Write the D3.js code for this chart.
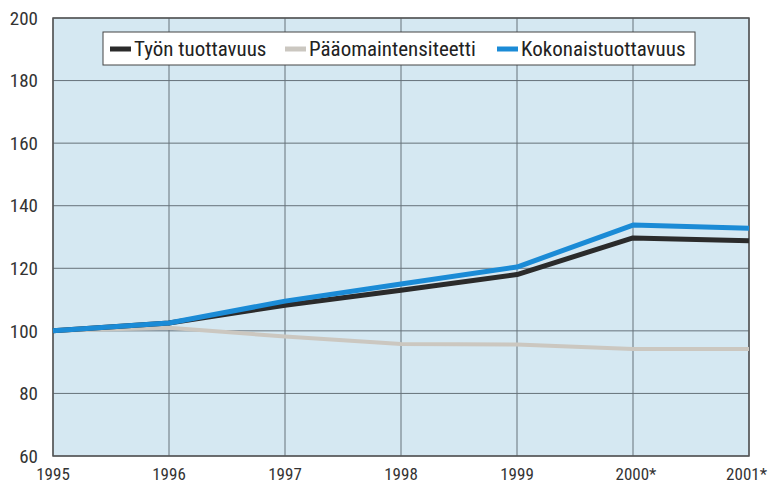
<!DOCTYPE html>
<html>
<head>
<meta charset="utf-8">
<script src="https://cdn.jsdelivr.net/npm/d3@7"></script>
<style>
body { margin: 0; background: #fff; }
text { font-family: "Liberation Sans Narrow", "Roboto Condensed", "Liberation Sans", sans-serif; }
</style>
</head>
<body>
<div id="chart"></div>
<script>
var width = 768;
var height = 483;
var margin = {top: 18, right: 19, bottom: 27, left: 53};

var years = ["1995", "1996", "1997", "1998", "1999", "2000*", "2001*"];
var tyon = [100, 102.5, 108.2, 113, 118, 129.7, 128.8];
var paaoma = [100, 101, 98.2, 95.8, 95.6, 94.2, 94.2];
var kokonais = [100, 102.5, 109.5, 115, 120.4, 133.8, 132.8];
var yTicks = [60, 80, 100, 120, 140, 160, 180, 200];

var seriesNames = ["Työn tuottavuus", "Pääomaintensiteetti", "Kokonaistuottavuus"];
var seriesColors = ["#2b2b2b", "#cbc7c0", "#1b8bd6"];
var seriesWidths = [5, 4, 5];
var series = [tyon, paaoma, kokonais];

var svg = d3.select("#chart")
            .append("svg")
            .attr("width", width)
            .attr("height", height);

var x = d3.scalePoint()
          .domain(years)
          .range([margin.left, width - margin.right]);

var y = d3.scaleLinear()
          .domain([60, 200])
          .range([height - margin.bottom, margin.top]);

// plot background
svg.append("rect")
   .attr("x", margin.left)
   .attr("y", margin.top)
   .attr("width", width - margin.left - margin.right)
   .attr("height", height - margin.top - margin.bottom)
   .style("fill", "#d5e8f2");

// grid
svg.selectAll(".hgrid")
   .data(yTicks)
   .enter()
   .append("line")
   .attr("x1", margin.left)
   .attr("x2", width - margin.right)
   .attr("y1", function(d){ return y(d); })
   .attr("y2", function(d){ return y(d); })
   .style("stroke", "#66727a")
   .style("stroke-width", 1);

svg.selectAll(".vgrid")
   .data(years)
   .enter()
   .append("line")
   .attr("x1", function(d){ return x(d); })
   .attr("x2", function(d){ return x(d); })
   .attr("y1", margin.top)
   .attr("y2", height - margin.bottom)
   .style("stroke", "#66727a")
   .style("stroke-width", 1);

// frame
svg.append("rect")
   .attr("x", margin.left)
   .attr("y", margin.top)
   .attr("width", width - margin.left - margin.right)
   .attr("height", height - margin.top - margin.bottom)
   .style("fill", "none")
   .style("stroke", "#555")
   .style("stroke-width", 1.5);

// y labels
svg.selectAll(".ylab")
   .data(yTicks)
   .enter()
   .append("text")
   .attr("x", margin.left - 15)
   .attr("y", function(d){ return y(d); })
   .attr("dy", "0.35em")
   .attr("text-anchor", "end")
   .style("font-size", "19px")
   .style("fill", "#333")
   .text(function(d){ return d; });

// x labels
svg.selectAll(".xlab")
   .data(years)
   .enter()
   .append("text")
   .attr("x", function(d, i){
       if (i == years.length - 1) return width - 1;
       return x(d) + (d.indexOf("*") > 0 ? 3 : 0);
   })
   .attr("y", height - 3)
   .attr("text-anchor", function(d, i){ return i == years.length - 1 ? "end" : "middle"; })
   .style("font-size", "17px")
   .style("fill", "#333")
   .text(function(d){ return d; });

// lines
var line = d3.line()
             .x(function(d, i){ return x(years[i]); })
             .y(function(d){ return y(d); });

[1, 0, 2].forEach(function(k){
    svg.append("path")
       .datum(series[k])
       .attr("d", line)
       .style("fill", "none")
       .style("stroke", seriesColors[k])
       .style("stroke-width", seriesWidths[k])
       .style("stroke-linejoin", "round");
});

// legend
svg.append("rect")
   .attr("x", 103).attr("y", 32)
   .attr("width", 592).attr("height", 33)
   .style("fill", "#fff")
   .style("stroke", "#444")
   .style("stroke-width", 1);

var legendX = [110, 285, 497];
seriesNames.forEach(function(name, i){
    svg.append("line")
       .attr("x1", legendX[i]).attr("x2", legendX[i] + 21)
       .attr("y1", 49).attr("y2", 49)
       .style("stroke", seriesColors[i])
       .style("stroke-width", 5);
    svg.append("text")
       .attr("x", legendX[i] + 24)
       .attr("y", 49)
       .attr("dy", "0.35em")
       .style("font-size", "21px")
       .style("fill", "#222")
       .text(name);
});
</script>
</body>
</html>
